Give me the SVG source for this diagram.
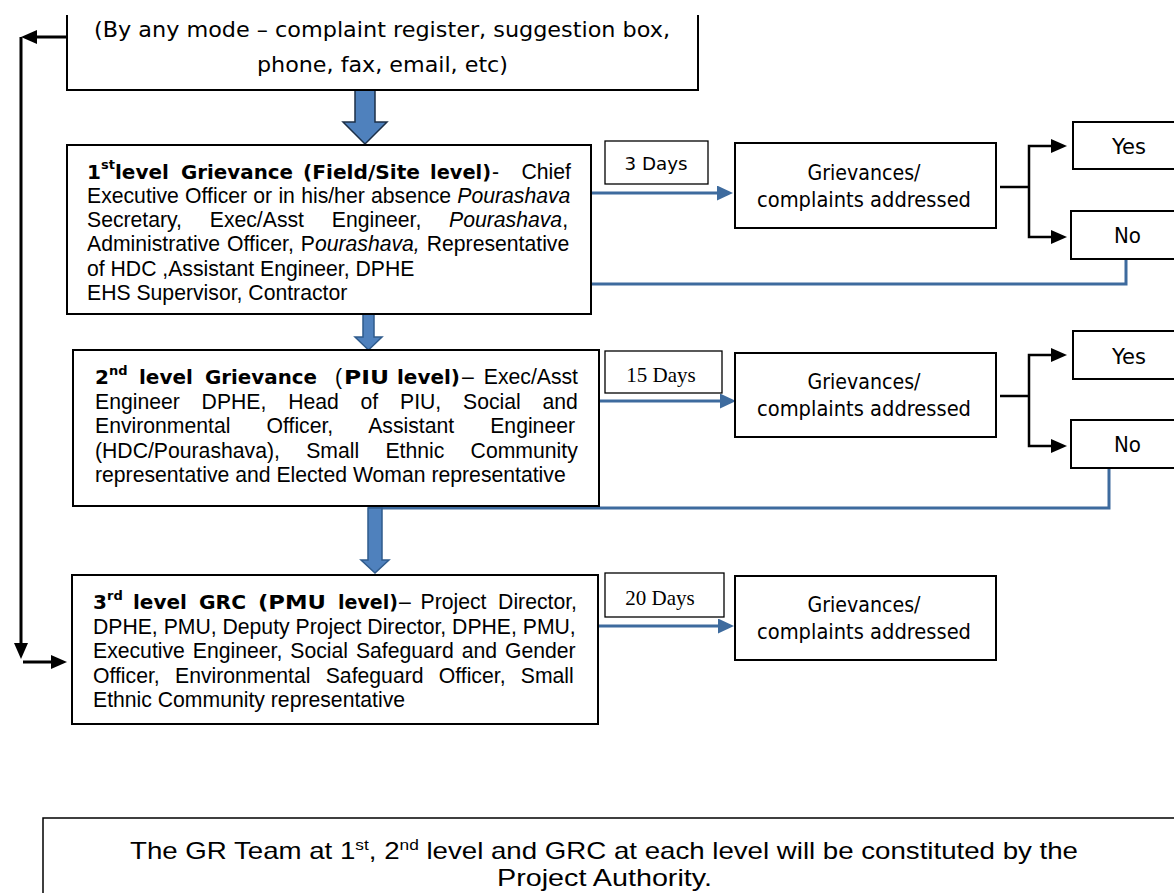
<svg xmlns="http://www.w3.org/2000/svg" width="1174" height="893" viewBox="0 0 1174 893">
<style>
.box{fill:#fff;stroke:#000;stroke-width:2}
.lbl{fill:#fff;stroke:#000;stroke-width:1.3}
.r{font-family:"Liberation Sans",Arial,sans-serif;font-size:21.2px;fill:#000}
.hb{font-family:"DejaVu Sans",Verdana,sans-serif;font-weight:bold;font-size:20px;fill:#000}
.hs{font-family:"DejaVu Sans",Verdana,sans-serif;font-weight:bold;font-size:13px;fill:#000}
.t{font-family:"DejaVu Sans",Verdana,sans-serif;font-size:21px;fill:#000}
.tm{font-family:"Liberation Serif","Times New Roman",serif;font-size:21px;fill:#000}
.it{font-style:italic}
.blk{stroke:#000;stroke-width:3;fill:none}
.blk2{stroke:#000;stroke-width:2.5;fill:none}
.blu{stroke:#3E6B9E;stroke-width:3;fill:none}
.fat{fill:#4F81BD;stroke:#2F5B8C;stroke-width:1.5}
</style>
<defs>
<marker id="ab" markerUnits="userSpaceOnUse" markerWidth="16" markerHeight="14" refX="8" refY="7" orient="auto-start-reverse"><path d="M0,0 L16,7 L0,14 z" fill="#000"/></marker>
<marker id="au" markerUnits="userSpaceOnUse" markerWidth="16" markerHeight="15" refX="8" refY="7.5" orient="auto"><path d="M0,0 L16,7.5 L0,15 z" fill="#3E6B9E"/></marker>
</defs>
<rect width="1174" height="893" fill="#fff"/>

<g id="connectors">
<path class="blk" d="M67,37 H29" marker-end="url(#ab)"/>
<path class="blk" d="M21,37 V651" marker-end="url(#ab)"/>
<path class="blk" d="M23,662 H59" marker-end="url(#ab)"/>
<path class="blu" d="M591,193 H725" marker-end="url(#au)"/>
<path class="blu" d="M599,401 H728" marker-end="url(#au)"/>
<path class="blu" d="M598,626 H726" marker-end="url(#au)"/>
<path class="blk2" d="M1000,187 H1029"/>
<path class="blk2" d="M1059,146 H1029 V237 H1059" marker-start="url(#ab)" marker-end="url(#ab)"/>
<path class="blk2" d="M1000,396 H1029"/>
<path class="blk2" d="M1059,355 H1029 V446 H1059" marker-start="url(#ab)" marker-end="url(#ab)"/>
<path class="blu" d="M1126,259 V284 H361"/>
<path class="blu" d="M1109,468 V508 H368"/>
<polygon class="fat" style="stroke:#1c2f47" points="355,90 375,90 375,122 387,122 365,144 343,122 355,122"/>
<polygon class="fat" points="363,284 374,284 374,337 382,337 368.5,350 355,337 363,337"/>
<polygon class="fat" points="368,508 382,508 382,560 389,560 375,573 361,560 368,560"/>
</g>

<g id="source">
<path d="M67,15 V90 H698 V15" fill="#fff" stroke="#000" stroke-width="2"/>
<text class="t" x="382" y="37" style="font-size:22px" text-anchor="middle" textLength="576" lengthAdjust="spacingAndGlyphs">(By any mode – complaint register, suggestion box,</text>
<text class="t" x="382.5" y="72" style="font-size:22px" text-anchor="middle" textLength="251" lengthAdjust="spacingAndGlyphs">phone, fax, email, etc)</text>
</g>

<g id="level1">
<rect class="box" x="67" y="145" width="524" height="169"/>
<text class="hb" x="87" y="178.5">1</text>
<text class="hs" x="101" y="169">st</text>
<text class="hb" x="115" y="178.5">level</text>
<text class="hb" x="181" y="178.5" textLength="112" lengthAdjust="spacingAndGlyphs">Grievance</text>
<text class="hb" x="303" y="178.5" textLength="117" lengthAdjust="spacingAndGlyphs">(Field/Site</text>
<text class="hb" x="430" y="178.5" textLength="61" lengthAdjust="spacingAndGlyphs">level)</text>
<text class="r" x="492" y="178.5">-</text>
<text class="r" x="571" y="178.5" text-anchor="end">Chief</text>
<text class="r" x="87" y="202.8" word-spacing="0.35">Executive Officer or in his/her absence <tspan class="it">Pourashava</tspan></text>
<text class="r" x="87" y="227.1" word-spacing="21.9">Secretary, Exec/Asst Engineer, <tspan class="it">Pourashava</tspan>,</text>
<text class="r" x="87" y="251.4" word-spacing="1.1">Administrative Officer, P<tspan class="it">ourashava,</tspan> Representative</text>
<text class="r" x="87" y="275.7">of HDC ,Assistant Engineer, DPHE</text>
<text class="r" x="87" y="300">EHS Supervisor, Contractor</text>
</g>

<g id="days1">
<rect class="lbl" x="605" y="141" width="103" height="43"/>
<text class="t" x="656" y="170" style="font-size:17px" text-anchor="middle" textLength="63" lengthAdjust="spacingAndGlyphs">3 Days</text>
</g>

<g id="addressed1">
<rect class="box" x="735" y="143" width="261" height="85"/>
<text class="t" x="864" y="179.5" text-anchor="middle" textLength="113" lengthAdjust="spacingAndGlyphs">Grievances/</text>
<text class="t" x="864" y="206.5" text-anchor="middle" textLength="214" lengthAdjust="spacingAndGlyphs">complaints addressed</text>
</g>

<g id="yes1">
<rect class="box" x="1073" y="122" width="110" height="47"/>
<text class="t" x="1129" y="154" text-anchor="middle" textLength="34" lengthAdjust="spacingAndGlyphs">Yes</text>
</g>
<g id="no1">
<rect class="box" x="1071" y="211" width="112" height="48"/>
<text class="t" x="1127.5" y="242.5" text-anchor="middle" textLength="27" lengthAdjust="spacingAndGlyphs">No</text>
</g>

<g id="level2">
<rect class="box" x="73" y="350" width="526" height="156"/>
<text class="hb" x="95" y="384">2</text>
<text class="hs" x="109" y="374.5">nd</text>
<text class="hb" x="139" y="384">level</text>
<text class="hb" x="205" y="384" textLength="112" lengthAdjust="spacingAndGlyphs">Grievance</text>
<text class="r" x="335" y="384">(</text>
<text class="hb" x="344" y="384" textLength="45" lengthAdjust="spacingAndGlyphs">PIU</text>
<text class="hb" x="397" y="384" textLength="63" lengthAdjust="spacingAndGlyphs">level)</text>
<text class="r" x="462" y="384">–</text>
<text class="r" x="578" y="384" text-anchor="end">Exec/Asst</text>
<text class="r" x="95" y="408.5" word-spacing="15.9">Engineer DPHE, Head of PIU, Social and</text>
<text class="r" x="95" y="433" word-spacing="30.2">Environmental Officer, Assistant Engineer</text>
<text class="r" x="95" y="457.5" word-spacing="20.4">(HDC/Pourashava), Small Ethnic Community</text>
<text class="r" x="95" y="482">representative and Elected Woman representative</text>
</g>

<g id="days2">
<rect class="lbl" x="605" y="351" width="117" height="42"/>
<text class="tm" x="661" y="381.5" text-anchor="middle">15 Days</text>
</g>

<g id="addressed2">
<rect class="box" x="735" y="353" width="261" height="84"/>
<text class="t" x="864" y="388.5" text-anchor="middle" textLength="113" lengthAdjust="spacingAndGlyphs">Grievances/</text>
<text class="t" x="864" y="415.5" text-anchor="middle" textLength="214" lengthAdjust="spacingAndGlyphs">complaints addressed</text>
</g>

<g id="yes2">
<rect class="box" x="1073" y="331" width="110" height="48"/>
<text class="t" x="1129" y="363.5" text-anchor="middle" textLength="34" lengthAdjust="spacingAndGlyphs">Yes</text>
</g>
<g id="no2">
<rect class="box" x="1071" y="420" width="112" height="48"/>
<text class="t" x="1127.5" y="452" text-anchor="middle" textLength="27" lengthAdjust="spacingAndGlyphs">No</text>
</g>

<g id="level3">
<rect class="box" x="72" y="575" width="526" height="149"/>
<text class="hb" x="93" y="609">3</text>
<text class="hs" x="107" y="599.5">rd</text>
<text class="hb" x="133" y="609">level</text>
<text class="hb" x="199" y="609" textLength="47" lengthAdjust="spacingAndGlyphs">GRC</text>
<text class="hb" x="258" y="609" textLength="68" lengthAdjust="spacingAndGlyphs">(PMU</text>
<text class="hb" x="338" y="609" textLength="60" lengthAdjust="spacingAndGlyphs">level)</text>
<text class="r" x="399" y="609">–</text>
<text class="r" x="420.5" y="609">Project</text>
<text class="r" x="577" y="609" text-anchor="end">Director,</text>
<text class="r" x="93" y="633.5">DPHE, PMU, Deputy Project Director, DPHE, PMU,</text>
<text class="r" x="93" y="658" word-spacing="2.06">Executive Engineer, Social Safeguard and Gender</text>
<text class="r" x="93" y="682.5" word-spacing="9.4">Officer, Environmental Safeguard Officer, Small</text>
<text class="r" x="93" y="707">Ethnic Community representative</text>
</g>

<g id="days3">
<rect class="lbl" x="605" y="573" width="119" height="44"/>
<text class="tm" x="660" y="604.5" text-anchor="middle">20 Days</text>
</g>

<g id="addressed3">
<rect class="box" x="735" y="576" width="261" height="84"/>
<text class="t" x="864" y="611.5" text-anchor="middle" textLength="113" lengthAdjust="spacingAndGlyphs">Grievances/</text>
<text class="t" x="864" y="638.5" text-anchor="middle" textLength="214" lengthAdjust="spacingAndGlyphs">complaints addressed</text>
</g>

<g id="note">
<rect x="43" y="818" width="1140" height="100" fill="#fff" stroke="#000" stroke-width="1.5"/>
<text class="r" x="604" y="859" style="font-size:24px" text-anchor="middle" textLength="948" lengthAdjust="spacingAndGlyphs">The GR Team at 1<tspan font-size="15" dy="-9">st</tspan><tspan dy="9">, 2</tspan><tspan font-size="15" dy="-9">nd</tspan><tspan dy="9"> level and GRC at each level will be constituted by the</tspan></text>
<text class="r" x="604.5" y="886" style="font-size:24px" text-anchor="middle" textLength="215" lengthAdjust="spacingAndGlyphs">Project Authority.</text>
</g>
</svg>
